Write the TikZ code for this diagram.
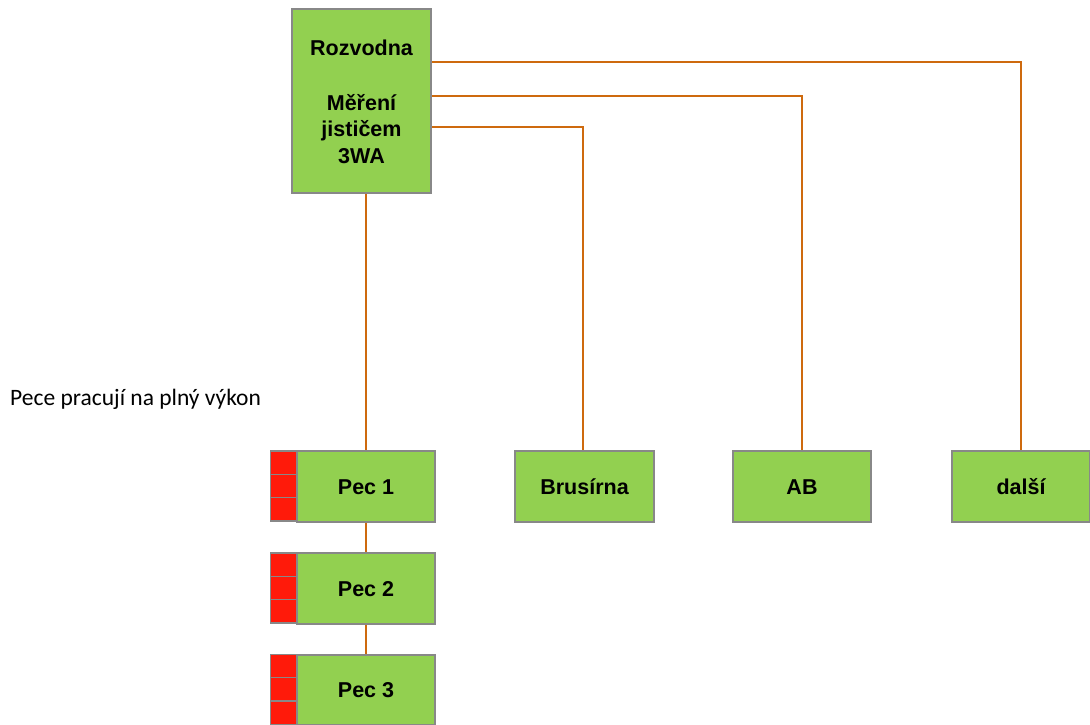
\documentclass[tikz,border=0pt]{standalone}
\usepackage{fontspec}
\setmainfont{Liberation Sans}
\newfontfamily\calib{Carlito}
\definecolor{boxgreen}{RGB}{146,208,80}
\definecolor{wireor}{RGB}{206,106,14}
\definecolor{cellred}{RGB}{255,26,10}
\definecolor{edgegray}{RGB}{136,136,136}
\begin{document}
\begin{tikzpicture}[x=1pt,y=-1pt,
  gbox/.style={draw=edgegray,line width=1.3pt,fill=boxgreen,rectangle,inner sep=0pt,
    font=\fontsize{21.5}{26.5}\selectfont\bfseries,align=center,
    text height=15.5pt,text depth=0pt},
  boxtext/.style={font=\fontsize{21.5}{26.5}\selectfont\bfseries,anchor=base,inner sep=0pt},
  wire/.style={draw=wireor,line width=2.8pt},
  redcell/.style={draw=edgegray,line width=1.3pt,fill=cellred}]
\useasboundingbox (0,0) rectangle (1090,724);
\node[gbox,minimum width=139pt,minimum height=184pt] (roz) at (361.5,101) {};
\node[gbox,minimum width=138pt,minimum height=70pt] (pec1) at (366,486.5) {Pec 1};
\node[gbox,minimum width=138pt,minimum height=70pt] (pec2) at (366,588.5) {Pec 2};
\node[gbox,minimum width=138pt,minimum height=70pt] (pec3) at (366,690) {Pec 3};
\node[gbox,minimum width=139pt,minimum height=70pt] (brus) at (584.5,486.5) {Brusírna};
\node[gbox,minimum width=138pt,minimum height=70pt] (ab) at (802,486.5) {AB};
\node[gbox,minimum width=138pt,minimum height=70pt] (dalsi) at (1021,486.5) {další};
% connectors
\draw[wire] (roz.east |- {(0,62)}) -| (dalsi.north);
\draw[wire] (roz.east |- {(0,96)}) -| (ab.north);
\draw[wire] (roz.east |- {(0,127)}) -| ([xshift=-1.5pt]brus.north);
\draw[wire] (roz.south -| pec1.north) -- (pec1.north);
\draw[wire] (pec1.south) -- (pec2.north);
\draw[wire] (pec2.south) -- (pec3.north);
% redraw box borders over wire ends
\draw[draw=edgegray,line width=1.3pt] (roz.south west) rectangle (roz.north east);
\foreach \p in {pec1,pec2,pec3}{
  \draw[draw=edgegray,line width=1.3pt] (\p.south west) rectangle (\p.north east);
  \path (\p.north west) ++(-26,0) coordinate (\p rA);
  \draw[redcell] (\p rA) rectangle ++(26,70/3);
  \draw[redcell] (\p rA) ++(0,70/3) rectangle ++(26,70/3);
  \draw[redcell] (\p rA) ++(0,140/3) rectangle ++(26,70/3);
}
\foreach \p in {brus,ab,dalsi}{
  \draw[draw=edgegray,line width=1.3pt] (\p.south west) rectangle (\p.north east);
}
% texts of the main box
\node[boxtext] (tRoz) at (361.5,55) {Rozvodna};
\node[boxtext] (tMer) at (361.5,110) {Měření};
\node[boxtext] (tJis) at (361.5,136.5) {jističem};
\node[boxtext] (t3wa) at (361.5,163) {3WA};
\node[font=\calib\fontsize{23.5}{28}\selectfont,anchor=base west,inner sep=0pt] (note) at (10,405) {Pece pracují na plný výkon};
\end{tikzpicture}
\end{document}
